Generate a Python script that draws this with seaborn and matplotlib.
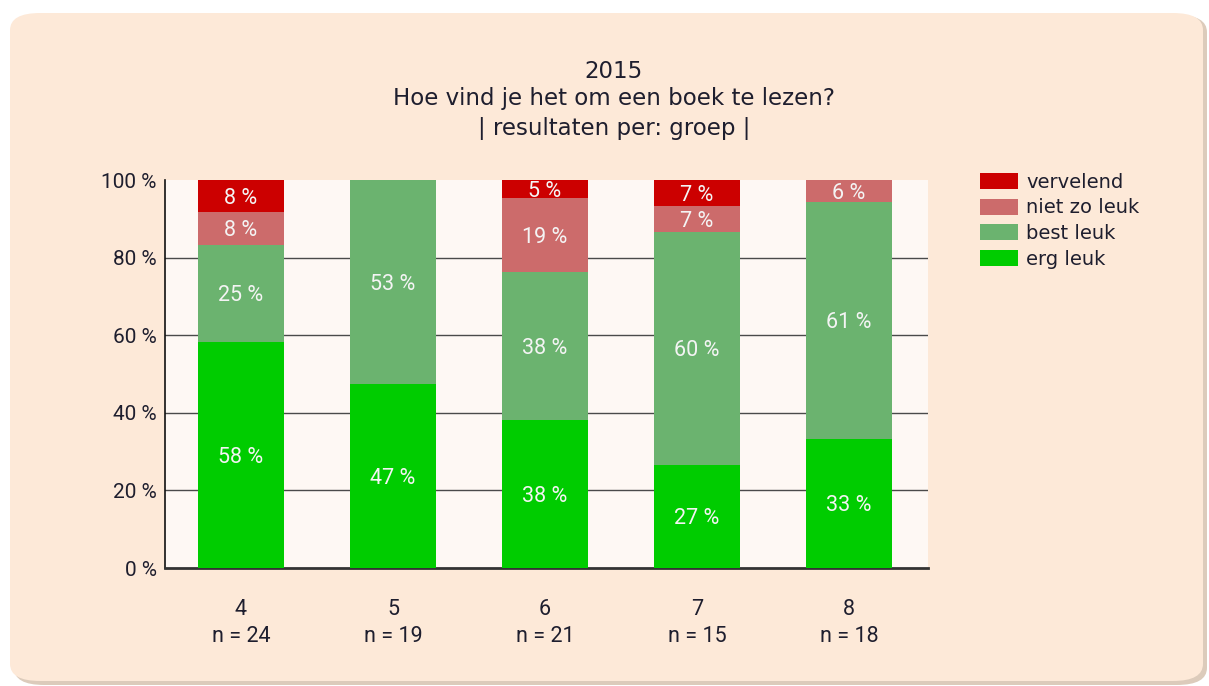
import numpy as np
import pandas as pd
import matplotlib
matplotlib.use("Agg")
import matplotlib.pyplot as plt
from matplotlib.patches import FancyBboxPatch, Patch
import seaborn as sns

# ── Data ──────────────────────────────────────────────────────────────────────
groups     = ["4", "5", "6", "7", "8"]
n_counts   = [24, 19, 21, 15, 18]
erg_leuk   = [14, 9, 8, 4, 6]
best_leuk  = [6, 10, 8, 9, 11]
niet_leuk  = [2, 0, 4, 1, 1]
vervelend  = [2, 0, 1, 1, 0]

categories = ["vervelend", "niet zo leuk", "best leuk", "erg leuk"]
colors     = {"vervelend": "#CC0000", "niet zo leuk": "#CC6B6B",
              "best leuk": "#6BB36F", "erg leuk": "#00CC00"}

PANEL  = "#FDE9D8"
PLOTBG = "#FEF8F4"
TEXT   = "#1E1E2E"

plt.rcParams["font.family"] = ["DejaVu Sans"]

# ── Frame ─────────────────────────────────────────────────────────────────────
n = np.array(n_counts, dtype=float)
df = pd.DataFrame({
    "groep": groups,
    "erg leuk": np.array(erg_leuk) / n * 100,
    "best leuk": np.array(best_leuk) / n * 100,
    "niet zo leuk": np.array(niet_leuk) / n * 100,
    "vervelend": np.array(vervelend) / n * 100,
})
stack_order = ["erg leuk", "best leuk", "niet zo leuk", "vervelend"]
cum = df[stack_order].cumsum(axis=1)

fig = plt.figure(figsize=(12.09, 6.86), dpi=100, facecolor="white")

# rounded panel with shadow
shadow = FancyBboxPatch((14 / 1209, 1 - 685 / 686), 1193 / 1209, 670 / 686,
                        boxstyle="round,pad=0,rounding_size=0.025",
                        transform=fig.transFigure, facecolor="#DCCBBB",
                        edgecolor="none", zorder=-2)
panel = FancyBboxPatch((10 / 1209, 1 - 681 / 686), 1193 / 1209, 668 / 686,
                       boxstyle="round,pad=0,rounding_size=0.025",
                       transform=fig.transFigure, facecolor=PANEL,
                       edgecolor="none", zorder=-1)
fig.patches.extend([shadow, panel])

ax = fig.add_axes([165 / 1209, 1 - 568 / 686, 763 / 1209, 388 / 686])
ax.set_zorder(1)
ax.set_facecolor(PLOTBG)

# stacked bars: draw cumulative totals from top to bottom
for cat in reversed(stack_order):
    sns.barplot(x=df["groep"], y=cum[cat], color=colors[cat], width=0.57,
                saturation=1, ax=ax, zorder=3, linewidth=0)

# segment labels
for i in range(len(groups)):
    base = 0
    for cat in stack_order:
        v = df[cat].iloc[i]
        if v > 0:
            ax.text(i, base + v / 2, f"{v:.0f} %", ha="center",
                    va="center_baseline", fontsize=15.5, color="#F4F4F4",
                    family="Roboto", zorder=4)
        base += v

ax.set_ylim(0, 100)
ax.set_xlim(-0.5, 4.52)
ax.set_yticks([0, 20, 40, 60, 80, 100])
ax.set_yticklabels([f"{t} %" for t in [0, 20, 40, 60, 80, 100]],
                   fontsize=15, family="Roboto", color=TEXT)
ax.set_xticks(range(len(groups)))
ax.set_xticklabels([f"{g}\nn = {c}" for g, c in zip(groups, n_counts)],
                   fontsize=15.5, family="Roboto", color=TEXT, linespacing=1.38)
ax.tick_params(axis="both", length=0)
ax.tick_params(axis="x", pad=22)
ax.tick_params(axis="y", pad=6)
ax.set_xlabel("")
ax.set_ylabel("")
for y in [20, 40, 60, 80]:
    ax.axhline(y, color="#4A4A4A", linewidth=1, zorder=1)
for s in ["top", "right"]:
    ax.spines[s].set_visible(False)
ax.spines["left"].set_color("#111111")
ax.spines["left"].set_linewidth(1.2)
ax.spines["bottom"].set_color("#333333")
ax.spines["bottom"].set_linewidth(2)

# title
for txt, y in [("2015", 71),
               ("Hoe vind je het om een boek te lezen?", 99),
               ("| resultaten per: groep |", 128)]:
    fig.text(614 / 1209, 1 - y / 686, txt, ha="center", va="center",
             fontsize=16.5, color=TEXT, family="DejaVu Sans")

# legend
handles = [Patch(facecolor=colors[c], edgecolor="none", label=c) for c in categories]
fig.legend(handles=handles, loc="upper left",
           bbox_to_anchor=(972 / 1209, 1 - 165 / 686), frameon=False,
           prop={"family": "DejaVu Sans", "size": 14}, labelcolor=TEXT,
           handlelength=1.95, handleheight=0.88, handletextpad=0.45,
           labelspacing=0.34, borderaxespad=0)

fig.savefig("out.png", dpi=100, facecolor="white")
